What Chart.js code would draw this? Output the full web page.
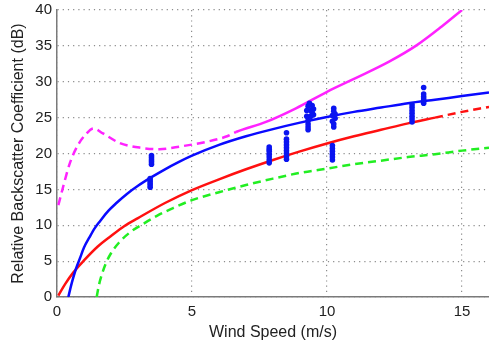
<!DOCTYPE html>
<html>
<head>
<meta charset="utf-8">
<script src="https://cdn.jsdelivr.net/npm/chart.js@4/dist/chart.umd.min.js"></script>
<style>
  body { margin: 0; background: #fff; }
  #wrap { width: 489px; height: 343px; }
</style>
</head>
<body>
<div id="wrap"><canvas id="myChart"></canvas></div>
<script>
// tick values
const xTicks = [0, 5, 10, 15];
const yTicks = [0, 5, 10, 15, 20, 25, 30, 35, 40];

// model curves
const magentaX = [0.05, 0.23, 0.48, 0.78, 1.05, 1.35, 1.7, 2.3, 3.1, 3.8, 4.6, 5.5, 6.3, 6.63, 7.74, 8.85, 10, 11.06, 12.3, 13.33, 14.25, 15];
const magentaY = [12.8, 15.4, 18.7, 21.2, 22.6, 23.5, 22.8, 21.5, 20.8, 20.6, 21.0, 21.6, 22.4, 23.0, 24.4, 26.3, 28.6, 30.5, 32.8, 35.1, 37.7, 40];

const blueX = [0.42, 0.55, 0.7, 0.85, 1, 1.2, 1.4, 1.6, 1.9, 2.2, 2.6, 3, 3.5, 4, 4.5, 5, 6, 7, 8, 9, 10, 11, 12, 13, 14, 15, 16];
const blueY = [0, 2, 3.9, 5.4, 6.9, 8.3, 9.6, 10.6, 12.0, 13.1, 14.4, 15.5, 16.7, 17.8, 18.8, 19.7, 21.2, 22.4, 23.4, 24.3, 25.1, 25.8, 26.4, 27.0, 27.5, 28.0, 28.5];

const redX = [0.05, 0.3, 0.6, 1, 1.5, 2, 2.5, 3, 4, 5, 6, 7, 8, 9, 10, 11, 12, 13, 14, 15, 16];
const redY = [0.2, 1.8, 3.4, 5.1, 7.0, 8.5, 9.9, 11.0, 13.1, 14.9, 16.4, 17.8, 19.1, 20.3, 21.4, 22.4, 23.3, 24.2, 25.0, 25.8, 26.5];

const greenX = [1.47, 1.55, 1.65, 1.8, 2, 2.3, 2.7, 3.2, 3.7, 4.3, 5, 6, 7, 8, 9, 10, 11, 12, 13, 14, 15, 16];
const greenY = [0, 1.6, 3.0, 4.6, 6.1, 7.6, 9.0, 10.2, 11.3, 12.4, 13.5, 14.6, 15.6, 16.5, 17.3, 17.9, 18.5, 19.0, 19.5, 19.9, 20.4, 20.8];

// measured points (blue dots)
const obsX = [
  3.45, 3.45, 3.45, 3.45, 3.45,
  3.5, 3.5, 3.5, 3.5, 3.5,
  7.86, 7.86, 7.86, 7.86, 7.86, 7.86, 7.86,
  8.5, 8.5, 8.5, 8.5, 8.5, 8.5, 8.5, 8.5, 8.5,
  9.3, 9.3, 9.3, 9.3, 9.25, 9.4, 9.5, 9.25, 9.4, 9.5, 9.3, 9.45, 9.35, 9.45,
  10.25, 10.25, 10.2, 10.3, 10.2, 10.3, 10.25, 10.25,
  10.2, 10.2, 10.2, 10.2, 10.2, 10.2,
  13.15, 13.15, 13.15, 13.15, 13.15, 13.15, 13.15,
  13.58, 13.58, 13.58, 13.58, 13.58, 13.58
];
const obsY = [
  15.3, 15.6, 15.9, 16.2, 16.5,
  18.5, 18.8, 19.1, 19.4, 19.7,
  18.7, 19.1, 19.5, 19.9, 20.3, 20.6, 20.9,
  19.2, 19.6, 20.0, 20.4, 20.8, 21.2, 21.6, 22.0, 22.9,
  23.3, 23.7, 24.1, 24.6, 25.2, 25.2, 25.4, 26.0, 26.0, 26.2, 26.6, 26.7, 27.0, 25.7,
  23.7, 24.1, 24.5, 24.9, 25.3, 25.5, 25.9, 26.3,
  19.1, 19.5, 19.9, 20.3, 20.7, 21.1,
  24.4, 24.8, 25.2, 25.6, 26.0, 26.4, 26.8,
  27.0, 27.3, 27.6, 27.9, 28.3, 29.2
];

const toPoints = (xs, ys) => xs.map((x, i) => ({ x: x, y: ys[i] }));
const DASH = [8, 5];

function curve(xs, ys, color, dashed) {
    return {
        type: 'line',
        data: toPoints(xs, ys),
        borderColor: color,
        borderWidth: 2.5,
        pointRadius: 0,
        cubicInterpolationMode: 'monotone',
        fill: false,
        segment: { borderDash: (ctx) => dashed(ctx.p0.parsed.x) ? DASH : undefined },
    };
}

const ctx = document.getElementById('myChart').getContext('2d');
const tickFont = { family: 'Liberation Sans', size: 15 };
const titleFont = { family: 'Liberation Sans', size: 16 };

new Chart(ctx, {
    data: {
        datasets: [
            {
                type: 'scatter',
                data: toPoints(obsX, obsY),
                backgroundColor: '#0a14f0',
                borderWidth: 0,
                pointRadius: 2.8,
            },
            curve(blueX, blueY, '#0a0aff', (x) => x >= 15.3),
            curve(redX, redY, '#ff1010', (x) => x >= 13.1),
            curve(greenX, greenY, '#22ee22', () => true),
            curve(magentaX, magentaY, '#ff22ff', (x) => x < 6.6),
        ],
    },
    options: {
        responsive: true,
        maintainAspectRatio: false,
        animation: false,
        layout: { autoPadding: false, padding: { top: 10, right: 0, left: 0, bottom: 0 } },
        plugins: { legend: { display: false }, tooltip: { enabled: false } },
        scales: {
            x: {
                type: 'linear',
                min: 0,
                max: 16,
                afterBuildTicks: (scale) => { scale.ticks = xTicks.map((v) => ({ value: v })); },
                afterFit: (scale) => {
                    scale.height = 46;
                    scale.paddingLeft = 0;
                    scale.paddingRight = 0;
                },
                grid: { color: '#8c8c8c', lineWidth: 1.2, drawTicks: false },
                border: { color: '#7a7a7a', width: 1.5, dash: [1.2, 4] },
                ticks: { color: '#222', font: tickFont, padding: 6, maxRotation: 0 },
                title: { display: true, text: 'Wind Speed (m/s)', color: '#222', font: titleFont, padding: { top: 0, bottom: 1 } },
            },
            y: {
                type: 'linear',
                min: 0,
                max: 40,
                afterBuildTicks: (scale) => { scale.ticks = yTicks.map((v) => ({ value: v })); },
                afterFit: (scale) => {
                    scale.width = 57;
                    scale.paddingTop = 0;
                    scale.paddingBottom = 0;
                },
                grid: { color: '#8c8c8c', lineWidth: 1.2, drawTicks: false },
                border: { color: '#7a7a7a', width: 1.5, dash: [1.2, 4] },
                ticks: { color: '#222', font: tickFont, padding: 5 },
                title: { display: true, text: 'Relative Backscatter Coefficient (dB)', color: '#222', font: titleFont, padding: { top: 9, bottom: 0 } },
            },
        },
    },
});
</script>
</body>
</html>
